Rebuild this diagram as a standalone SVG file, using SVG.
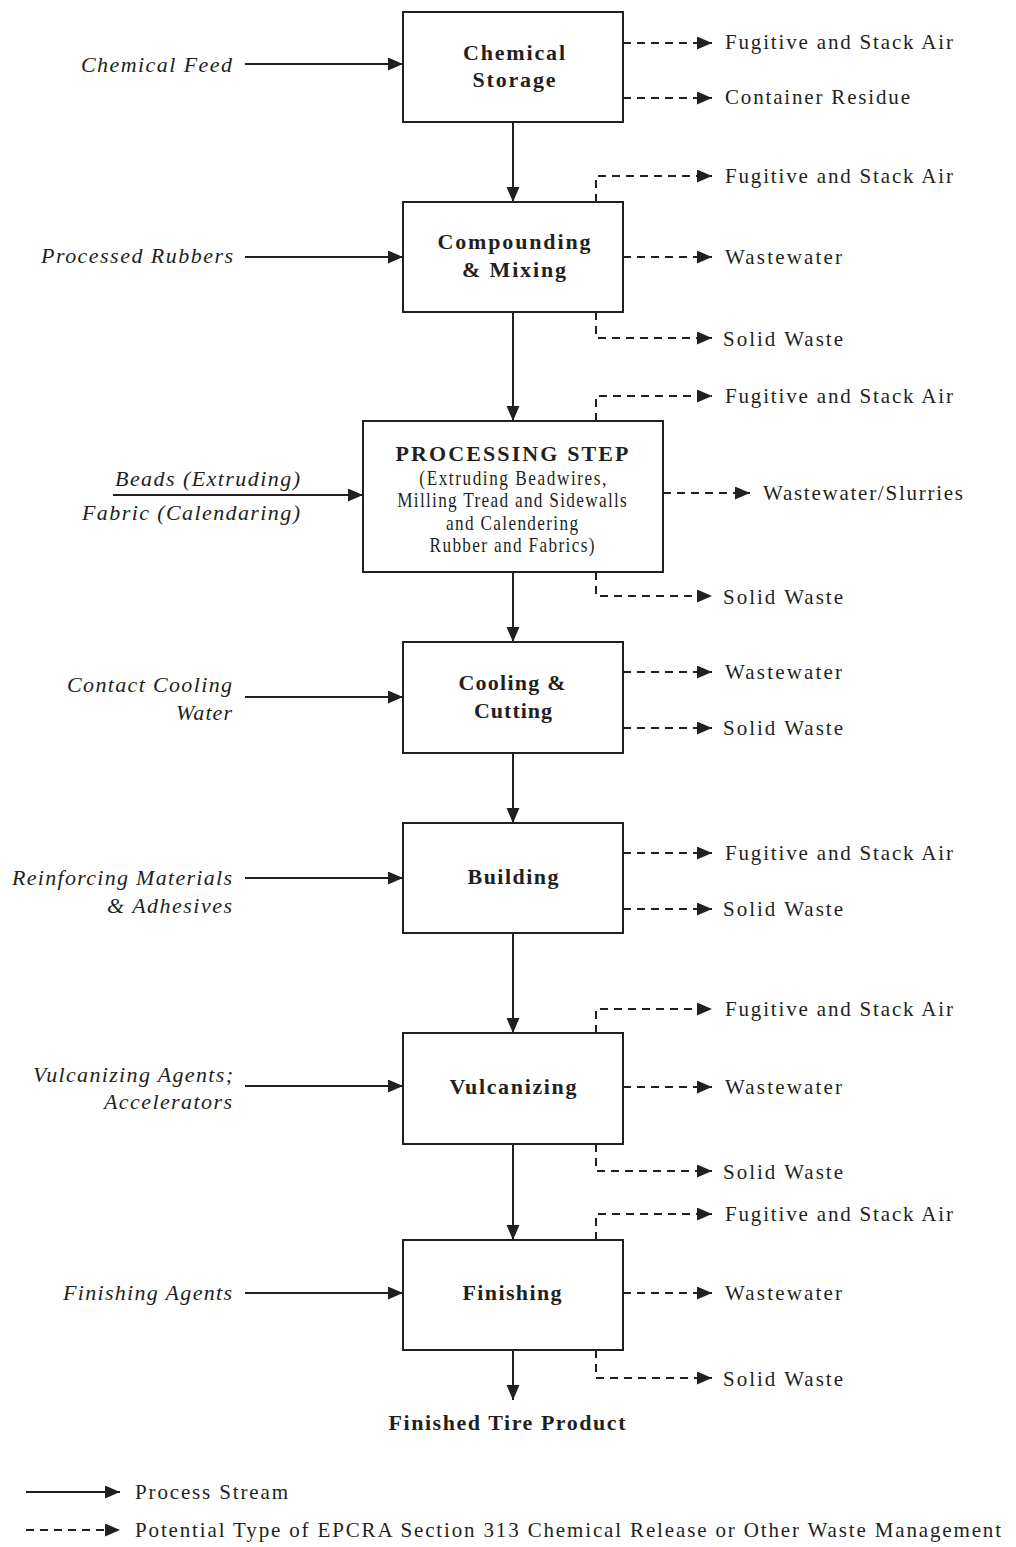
<svg xmlns="http://www.w3.org/2000/svg" width="1016" height="1547" viewBox="0 0 1016 1547">
  <defs>
    <marker id="arrow" markerUnits="userSpaceOnUse" markerWidth="16" markerHeight="14" refX="15" refY="6.5" orient="auto">
      <path d="M0,0 L15,6.5 L0,13 z" fill="#231f20"/>
    </marker>
    <style>
      .box { fill: #ffffff; stroke: #231f20; stroke-width: 2; }
      .flow { fill: none; stroke: #231f20; stroke-width: 2; marker-end: url(#arrow); }
      .rel { fill: none; stroke: #231f20; stroke-width: 2; stroke-dasharray: 8 6; marker-end: url(#arrow); }
      text { font-family: "Liberation Serif", "Times New Roman", serif; fill: #231f20; }
      .title { font-size: 22px; font-weight: bold; text-anchor: middle; }
      .sub { font-size: 21px; text-anchor: middle; }
      .in { font-size: 22px; font-style: italic; }
      .out { font-size: 21px; }
      .legend { font-size: 21px; }
    </style>
  </defs>

  <rect width="1016" height="1547" fill="#ffffff"/>

  <!-- connectors -->
  <g id="connectors">
    <!-- main process stream -->
    <line class="flow" x1="513" y1="122" x2="513" y2="202"/>
    <line class="flow" x1="513" y1="312" x2="513" y2="421"/>
    <line class="flow" x1="513" y1="572" x2="513" y2="642"/>
    <line class="flow" x1="513" y1="753" x2="513" y2="823"/>
    <line class="flow" x1="513" y1="933" x2="513" y2="1033"/>
    <line class="flow" x1="513" y1="1144" x2="513" y2="1240"/>
    <line class="flow" x1="513" y1="1350" x2="513" y2="1400"/>

    <!-- inputs -->
    <line class="flow" x1="245" y1="64" x2="403" y2="64"/>
    <line class="flow" x1="245" y1="257" x2="403" y2="257"/>
    <line class="flow" x1="113" y1="495" x2="363" y2="495"/>
    <line class="flow" x1="245" y1="697" x2="403" y2="697"/>
    <line class="flow" x1="245" y1="878" x2="403" y2="878"/>
    <line class="flow" x1="245" y1="1086" x2="403" y2="1086"/>
    <line class="flow" x1="245" y1="1293" x2="403" y2="1293"/>

    <!-- releases: Chemical Storage -->
    <line class="rel" x1="623" y1="43" x2="712" y2="43"/>
    <line class="rel" x1="623" y1="98" x2="712" y2="98"/>
    <!-- releases: Compounding & Mixing -->
    <path class="rel" d="M596,202 V176 H712"/>
    <line class="rel" x1="623" y1="257" x2="712" y2="257"/>
    <path class="rel" d="M596,312 V338 H712"/>
    <!-- releases: Processing Step -->
    <path class="rel" d="M596,421 V396 H712"/>
    <line class="rel" x1="663" y1="493" x2="750" y2="493"/>
    <path class="rel" d="M596,572 V596 H712"/>
    <!-- releases: Cooling & Cutting -->
    <line class="rel" x1="623" y1="672" x2="712" y2="672"/>
    <line class="rel" x1="623" y1="728" x2="712" y2="728"/>
    <!-- releases: Building -->
    <line class="rel" x1="623" y1="853" x2="712" y2="853"/>
    <line class="rel" x1="623" y1="909" x2="712" y2="909"/>
    <!-- releases: Vulcanizing -->
    <path class="rel" d="M596,1033 V1009 H712"/>
    <line class="rel" x1="623" y1="1087" x2="712" y2="1087"/>
    <path class="rel" d="M596,1144 V1171 H712"/>
    <!-- releases: Finishing -->
    <path class="rel" d="M596,1240 V1214 H712"/>
    <line class="rel" x1="623" y1="1293" x2="712" y2="1293"/>
    <path class="rel" d="M596,1350 V1378 H712"/>

    <!-- legend -->
    <line class="flow" x1="26" y1="1492" x2="120" y2="1492"/>
    <line class="rel" x1="26" y1="1530" x2="120" y2="1530"/>
  </g>

  <!-- process steps -->
  <g id="chemical-storage">
    <rect class="box" x="403" y="12" width="220" height="110"/>
    <text class="title" x="514" y="60" textLength="102" lengthAdjust="spacing">Chemical</text>
    <text class="title" x="514" y="87" textLength="83" lengthAdjust="spacing">Storage</text>
  </g>

  <g id="compounding-mixing">
    <rect class="box" x="403" y="202" width="220" height="110"/>
    <text class="title" x="514" y="249" textLength="153" lengthAdjust="spacing">Compounding</text>
    <text class="title" x="514" y="277" textLength="104" lengthAdjust="spacing">&amp; Mixing</text>
  </g>

  <g id="processing-step">
    <rect class="box" x="363" y="421" width="300" height="151"/>
    <text class="title" x="512" y="461" textLength="233" lengthAdjust="spacing">PROCESSING STEP</text>
    <!-- condensed description lines -->
    <g transform="translate(512,0) scale(0.82,1)">
      <text class="sub" x="1" y="485" textLength="228" lengthAdjust="spacing">(Extruding Beadwires,</text>
      <text class="sub" x="0" y="507" textLength="280" lengthAdjust="spacing">Milling Tread and Sidewalls</text>
      <text class="sub" x="0" y="530" textLength="161" lengthAdjust="spacing">and Calendering</text>
      <text class="sub" x="0" y="552" textLength="201" lengthAdjust="spacing">Rubber and Fabrics)</text>
    </g>
  </g>

  <g id="cooling-cutting">
    <rect class="box" x="403" y="642" width="220" height="111"/>
    <text class="title" x="512" y="690" textLength="107" lengthAdjust="spacing">Cooling &amp;</text>
    <text class="title" x="513" y="718" textLength="78" lengthAdjust="spacing">Cutting</text>
  </g>

  <g id="building">
    <rect class="box" x="403" y="823" width="220" height="110"/>
    <text class="title" x="513" y="884" textLength="91" lengthAdjust="spacing">Building</text>
  </g>

  <g id="vulcanizing">
    <rect class="box" x="403" y="1033" width="220" height="111"/>
    <text class="title" x="513" y="1094" textLength="127" lengthAdjust="spacing">Vulcanizing</text>
  </g>

  <g id="finishing">
    <rect class="box" x="403" y="1240" width="220" height="110"/>
    <text class="title" x="512" y="1300" textLength="99" lengthAdjust="spacing">Finishing</text>
  </g>

  <g id="finished-tire-product">
    <text class="title" x="507" y="1430" textLength="237" lengthAdjust="spacing">Finished Tire Product</text>
  </g>

  <!-- input materials -->
  <g id="inputs">
    <text class="in" x="81" y="72" textLength="151" lengthAdjust="spacing">Chemical Feed</text>
    <text class="in" x="41" y="263" textLength="192" lengthAdjust="spacing">Processed Rubbers</text>
    <text class="in" x="115" y="486" textLength="185" lengthAdjust="spacing">Beads (Extruding)</text>
    <text class="in" x="82" y="520" textLength="218" lengthAdjust="spacing">Fabric (Calendaring)</text>
    <text class="in" x="67" y="692" textLength="165" lengthAdjust="spacing">Contact Cooling</text>
    <text class="in" x="176" y="720" textLength="56" lengthAdjust="spacing">Water</text>
    <text class="in" x="12" y="885" textLength="220" lengthAdjust="spacing">Reinforcing Materials</text>
    <text class="in" x="107" y="913" textLength="125" lengthAdjust="spacing">&amp; Adhesives</text>
    <text class="in" x="33" y="1082" textLength="200" lengthAdjust="spacing">Vulcanizing Agents;</text>
    <text class="in" x="104" y="1109" textLength="128" lengthAdjust="spacing">Accelerators</text>
    <text class="in" x="63" y="1300" textLength="169" lengthAdjust="spacing">Finishing Agents</text>
  </g>

  <!-- releases and other waste streams -->
  <g id="outputs">
    <text class="out" x="725" y="49" textLength="228" lengthAdjust="spacing">Fugitive and Stack Air</text>
    <text class="out" x="725" y="104" textLength="185" lengthAdjust="spacing">Container Residue</text>

    <text class="out" x="725" y="183" textLength="228" lengthAdjust="spacing">Fugitive and Stack Air</text>
    <text class="out" x="725" y="264" textLength="117" lengthAdjust="spacing">Wastewater</text>
    <text class="out" x="723" y="346" textLength="120" lengthAdjust="spacing">Solid Waste</text>

    <text class="out" x="725" y="403" textLength="228" lengthAdjust="spacing">Fugitive and Stack Air</text>
    <text class="out" x="763" y="500" textLength="200" lengthAdjust="spacing">Wastewater/Slurries</text>
    <text class="out" x="723" y="604" textLength="120" lengthAdjust="spacing">Solid Waste</text>

    <text class="out" x="725" y="679" textLength="117" lengthAdjust="spacing">Wastewater</text>
    <text class="out" x="723" y="735" textLength="120" lengthAdjust="spacing">Solid Waste</text>

    <text class="out" x="725" y="860" textLength="228" lengthAdjust="spacing">Fugitive and Stack Air</text>
    <text class="out" x="723" y="916" textLength="120" lengthAdjust="spacing">Solid Waste</text>

    <text class="out" x="725" y="1016" textLength="228" lengthAdjust="spacing">Fugitive and Stack Air</text>
    <text class="out" x="725" y="1094" textLength="117" lengthAdjust="spacing">Wastewater</text>
    <text class="out" x="723" y="1179" textLength="120" lengthAdjust="spacing">Solid Waste</text>

    <text class="out" x="725" y="1221" textLength="228" lengthAdjust="spacing">Fugitive and Stack Air</text>
    <text class="out" x="725" y="1300" textLength="117" lengthAdjust="spacing">Wastewater</text>
    <text class="out" x="723" y="1386" textLength="120" lengthAdjust="spacing">Solid Waste</text>
  </g>

  <!-- key -->
  <g id="legend">
    <text class="legend" x="135" y="1499" textLength="153" lengthAdjust="spacing">Process Stream</text>
    <text class="legend" x="135" y="1537" textLength="866" lengthAdjust="spacing">Potential Type of EPCRA Section 313 Chemical Release or Other Waste Management</text>
  </g>
</svg>
